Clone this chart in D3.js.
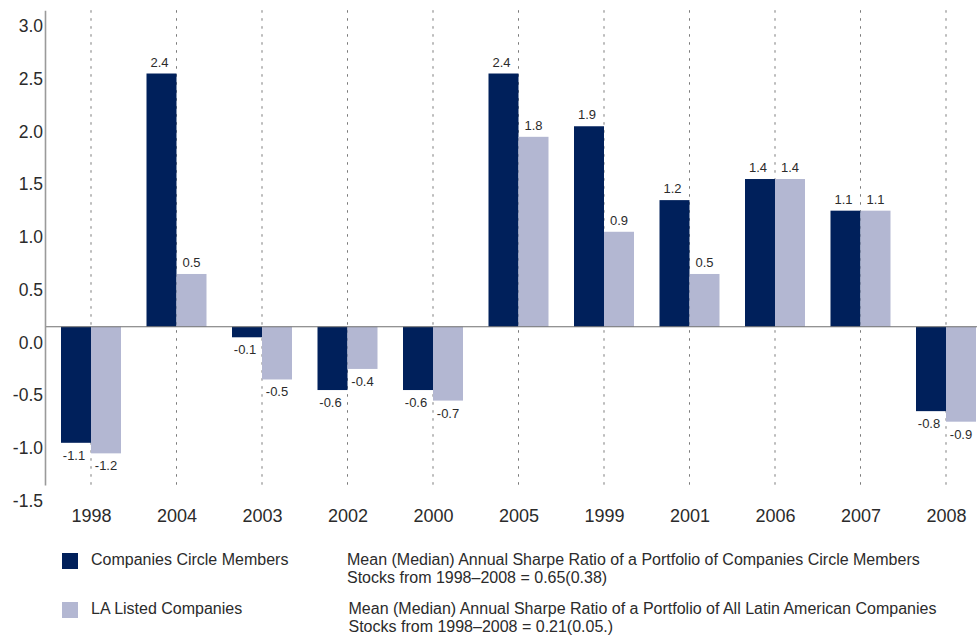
<!DOCTYPE html>
<html>
<head>
<meta charset="utf-8">
<script src="https://cdn.jsdelivr.net/npm/d3@7"></script>
<style>
  html, body { margin: 0; padding: 0; background: #fff; }
  svg { display: block; font-family: "Liberation Sans", Arial, Helvetica, sans-serif; }
</style>
</head>
<body>
<svg id="chart" width="977" height="637"></svg>
<script>
// Annual Sharpe ratios by year
const years = ["1998", "2004", "2003", "2002", "2000", "2005", "1999", "2001", "2006", "2007", "2008"];
const circleMembers = [-1.1, 2.4, -0.1, -0.6, -0.6, 2.4, 1.9, 1.2, 1.4, 1.1, -0.8];
const laListed = [-1.2, 0.5, -0.5, -0.4, -0.7, 1.8, 0.9, 0.5, 1.4, 1.1, -0.9];
const yTicks = [3.0, 2.5, 2.0, 1.5, 1.0, 0.5, 0.0, -0.5, -1.0, -1.5];
const seriesNames = ["Companies Circle Members", "LA Listed Companies"];
const noteLines = [
  ["Mean (Median) Annual Sharpe Ratio of a Portfolio of Companies Circle Members",
   "Stocks from 1998\u20132008 = 0.65(0.38)"],
  ["Mean (Median) Annual Sharpe Ratio of a Portfolio of All Latin American Companies",
   "Stocks from 1998\u20132008 = 0.21(0.05.)"]
];

const DARK = "#00205b";
const LIGHT = "#b3b7d2";
const TEXT = "#2b2b2b";

const svg = d3.select("#chart");

const x = d3.scalePoint().domain(years).range([91, 946]);
const y = d3.scaleLinear().domain([-1.5, 3.0]).range([485, 10.2]);
const barW = 30;
const axisX = 45;

// One decimal, plain hyphen for negatives
const fmt = v => d3.format(".1f")(v).replace("\u2212", "-");

// Vertical dotted separators at each category
svg.append("g").selectAll("line")
  .data(years)
  .join("line")
  .attr("x1", d => x(d)).attr("x2", d => x(d))
  .attr("y1", y(3.0)).attr("y2", y(-1.5))
  .attr("stroke", "#7a7a7a")
  .attr("stroke-width", 1)
  .attr("stroke-dasharray", "2.5,5.5");

// Bars
const rows = years.map((yr, i) => ({ yr, a: circleMembers[i], b: laListed[i] }));
const gBars = svg.append("g");
gBars.selectAll("rect.a")
  .data(rows)
  .join("rect")
  .attr("class", "a")
  .attr("x", d => x(d.yr) - barW)
  .attr("width", barW)
  .attr("y", d => Math.min(y(d.a), y(0)))
  .attr("height", d => Math.abs(y(d.a) - y(0)))
  .attr("fill", DARK);
gBars.selectAll("rect.b")
  .data(rows)
  .join("rect")
  .attr("class", "b")
  .attr("x", d => x(d.yr))
  .attr("width", barW)
  .attr("y", d => Math.min(y(d.b), y(0)))
  .attr("height", d => Math.abs(y(d.b) - y(0)))
  .attr("fill", LIGHT);

// Zero baseline
svg.append("line")
  .attr("x1", axisX).attr("x2", 977)
  .attr("y1", y(0)).attr("y2", y(0))
  .attr("stroke", "#6f6f6f")
  .attr("stroke-width", 1.2);

// Value labels
const gLab = svg.append("g")
  .attr("font-size", 13)
  .attr("fill", TEXT)
  .attr("text-anchor", "middle");
function labelY(v) { return v >= 0 ? y(v) - 7 : y(v) + 17; }
gLab.selectAll("text.a")
  .data(rows)
  .join("text")
  .attr("class", "a")
  .attr("x", d => x(d.yr) - barW / 2 - 2)
  .attr("y", d => labelY(d.a))
  .text(d => fmt(d.a));
gLab.selectAll("text.b")
  .data(rows)
  .join("text")
  .attr("class", "b")
  .attr("x", d => x(d.yr) + barW / 2)
  .attr("y", d => labelY(d.b))
  .text(d => fmt(d.b));

// Y axis: plain gray line, labels set just below each tick value
const yAxis = d3.axisLeft(y)
  .tickValues(yTicks)
  .tickSize(0)
  .tickPadding(2)
  .tickFormat(fmt);
const gy = svg.append("g")
  .attr("transform", `translate(${axisX},0)`)
  .call(yAxis);
gy.select(".domain").attr("stroke", "#9a9a9a").attr("stroke-width", 1.6);
gy.selectAll("text")
  .attr("font-family", "Liberation Sans, Arial, sans-serif")
  .attr("font-size", 17.5)
  .attr("fill", TEXT)
  .attr("dy", 21.5)
  .attr("x", -2);

// X axis year labels
const xAxis = d3.axisBottom(x).tickSize(0).tickPadding(0);
const gx = svg.append("g")
  .attr("transform", `translate(0,${y(-1.5)})`)
  .call(xAxis);
gx.select(".domain").remove();
gx.selectAll("text")
  .attr("font-family", "Liberation Sans, Arial, sans-serif")
  .attr("font-size", 18)
  .attr("fill", TEXT)
  .attr("dy", 0)
  .attr("y", 37);

// Legend
const legend = svg.append("g").attr("font-size", 16).attr("fill", TEXT);
const legendRows = [553, 602];
[DARK, LIGHT].forEach((c, i) => {
  legend.append("rect")
    .attr("x", 62).attr("y", legendRows[i])
    .attr("width", 16).attr("height", 16)
    .attr("fill", c);
  legend.append("text")
    .attr("x", 91).attr("y", legendRows[i] + 12)
    .text(seriesNames[i]);
  noteLines[i].forEach((line, j) => {
    legend.append("text")
      .attr("x", i === 0 ? 347 : 348.5)
      .attr("y", legendRows[i] + 12 + j * 18)
      .text(line);
  });
});
</script>
</body>
</html>
